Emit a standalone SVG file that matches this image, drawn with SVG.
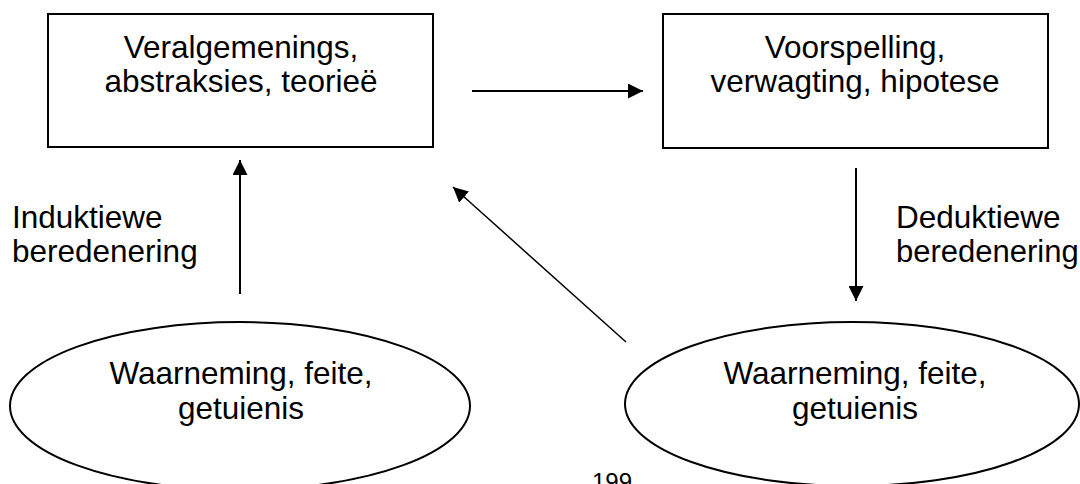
<svg xmlns="http://www.w3.org/2000/svg" width="1080" height="484" viewBox="0 0 1080 484">
<defs>
<style>
.box{fill:#fff;stroke:#000;stroke-width:2}
.t{font-family:"Liberation Sans",Arial,sans-serif;font-size:31.5px;fill:#000}
.c{text-anchor:middle}
.line{stroke:#000;stroke-width:2;fill:none}
</style>
<marker id="ah" viewBox="0 0 10 10" refX="10" refY="5" markerWidth="15" markerHeight="15" markerUnits="userSpaceOnUse" orient="auto">
<path d="M0,0 L10,5 L0,10 z" fill="#000"/>
</marker>
</defs>
<rect width="1080" height="484" fill="#fff"/>
<g id="theory">
<rect class="box" x="48" y="14" width="385" height="133"/>
<text class="t c" x="241" y="58">Veralgemenings,</text>
<text class="t c" x="241" y="92">abstraksies, teorieë</text>
</g>
<g id="hypothesis">
<rect class="box" x="663" y="14" width="385" height="134"/>
<text class="t c" x="855" y="58">Voorspelling,</text>
<text class="t c" x="855" y="92">verwagting, hipotese</text>
</g>
<g id="obs-left">
<ellipse class="box" cx="240" cy="406" rx="230" ry="84"/>
<text class="t c" x="241" y="384">Waarneming, feite,</text>
<text class="t c" x="241" y="419">getuienis</text>
</g>
<g id="obs-right">
<ellipse class="box" cx="852" cy="404" rx="227" ry="82"/>
<text class="t c" x="855" y="384">Waarneming, feite,</text>
<text class="t c" x="855" y="419">getuienis</text>
</g>
<g id="labels">
<text class="t" x="12" y="228">Induktiewe</text>
<text class="t" x="12" y="262">beredenering</text>
<text class="t" x="896" y="228">Deduktiewe</text>
<text class="t" x="896" y="262" style="font-size:31px">beredenering</text>
<text class="t" x="592" y="490" style="font-size:24px">199</text>
</g>
<g id="connectors">
<path d="M240,294 L240,160" class="line" marker-end="url(#ah)"/>
<path d="M472,91 L643,91" class="line" marker-end="url(#ah)"/>
<path d="M856,168 L856,301" class="line" marker-end="url(#ah)"/>
<path d="M626,342 L453,187" class="line" style="stroke-width:1.5" marker-end="url(#ah)"/>
</g>
</svg>
